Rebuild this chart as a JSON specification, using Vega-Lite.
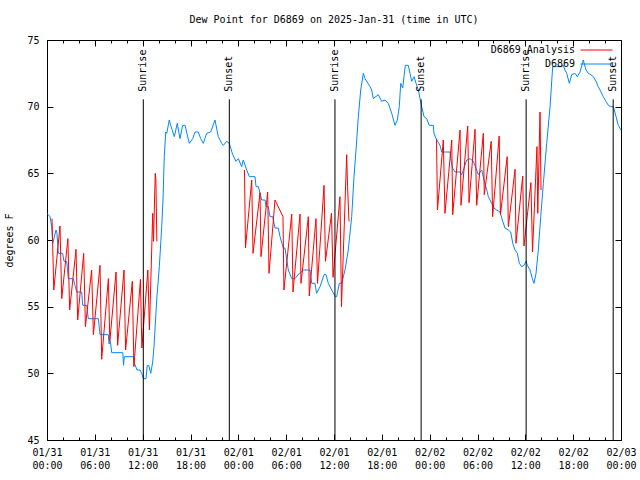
{
  "$schema": "https://vega.github.io/schema/vega-lite/v6.json",
  "width": 574,
  "height": 400,
  "autosize": "none",
  "padding": {"left": 47, "top": 40, "right": 19, "bottom": 40},
  "title": {"text": "Dew Point for D6869 on 2025-Jan-31 (time in UTC)", "font": "DejaVu Sans Mono", "fontSize": 10, "fontWeight": "normal", "color": "#000", "offset": 10, "anchor": "middle"},
  "datasets": {
    "obs": [
      {"h":0.0,"v":62.0},{"h":0.38,"v":61.75},{"h":0.59,"v":61.0},{"h":0.72,"v":59.75},{"h":1.13,"v":60.75},{"h":1.25,"v":60.5},{"h":1.42,"v":59.0},{"h":1.97,"v":59.0},{"h":2.13,"v":58.4},{"h":2.47,"v":58.4},{"h":2.67,"v":57.1},{"h":3.3,"v":57.1},{"h":3.51,"v":56.6},{"h":3.73,"v":56.1},{"h":4.35,"v":56.1},{"h":4.48,"v":55.1},{"h":4.98,"v":55.1},{"h":5.18,"v":54.1},{"h":6.44,"v":54.1},{"h":6.65,"v":52.9},{"h":7.69,"v":52.9},{"h":7.78,"v":52.2},{"h":7.95,"v":52.4},{"h":8.12,"v":51.55},{"h":9.5,"v":51.55},{"h":9.6,"v":50.6},{"h":9.7,"v":51.25},{"h":10.83,"v":51.25},{"h":10.91,"v":50.85},{"h":11.29,"v":50.25},{"h":11.67,"v":50.25},{"h":11.88,"v":50.0},{"h":12.08,"v":49.6},{"h":12.42,"v":49.6},{"h":12.58,"v":50.6},{"h":12.76,"v":50.6},{"h":13.01,"v":50.0},{"h":13.26,"v":50.85},{"h":13.42,"v":52.0},{"h":13.76,"v":55.5},{"h":14.09,"v":58.0},{"h":14.39,"v":61.0},{"h":14.55,"v":63.0},{"h":14.71,"v":66.25},{"h":14.89,"v":68.1},{"h":15.02,"v":68.0},{"h":15.34,"v":69.0},{"h":15.52,"v":68.6},{"h":15.97,"v":67.75},{"h":16.34,"v":68.75},{"h":16.68,"v":67.6},{"h":17.02,"v":68.6},{"h":17.31,"v":68.6},{"h":17.85,"v":67.25},{"h":18.28,"v":67.6},{"h":18.56,"v":68.1},{"h":18.98,"v":68.1},{"h":19.28,"v":67.6},{"h":19.61,"v":67.25},{"h":20.03,"v":68.0},{"h":20.53,"v":68.1},{"h":21.07,"v":69.0},{"h":21.49,"v":67.75},{"h":21.91,"v":67.25},{"h":22.12,"v":67.1},{"h":22.54,"v":67.4},{"h":22.87,"v":67.25},{"h":23.29,"v":66.4},{"h":23.71,"v":65.9},{"h":24.0,"v":66.1},{"h":24.42,"v":65.5},{"h":24.62,"v":66.0},{"h":25.05,"v":65.25},{"h":25.38,"v":64.75},{"h":26.09,"v":64.75},{"h":26.22,"v":64.0},{"h":26.51,"v":64.0},{"h":26.93,"v":63.0},{"h":27.35,"v":63.0},{"h":27.47,"v":62.5},{"h":27.76,"v":62.5},{"h":27.97,"v":61.75},{"h":28.31,"v":61.75},{"h":28.6,"v":60.9},{"h":29.01,"v":60.9},{"h":29.23,"v":60.25},{"h":29.64,"v":59.4},{"h":29.85,"v":59.4},{"h":30.27,"v":57.75},{"h":30.7,"v":57.1},{"h":31.11,"v":57.1},{"h":31.49,"v":57.4},{"h":32.15,"v":57.75},{"h":32.99,"v":57.75},{"h":33.2,"v":56.75},{"h":33.62,"v":56.75},{"h":33.81,"v":56.0},{"h":34.25,"v":56.5},{"h":34.75,"v":57.4},{"h":35.0,"v":57.4},{"h":35.29,"v":56.75},{"h":35.71,"v":56.25},{"h":36.16,"v":55.75},{"h":36.34,"v":55.75},{"h":36.67,"v":56.75},{"h":36.97,"v":56.75},{"h":37.38,"v":57.75},{"h":37.79,"v":59.25},{"h":38.22,"v":61.75},{"h":38.51,"v":64.75},{"h":38.76,"v":66.75},{"h":39.05,"v":69.25},{"h":39.35,"v":71.25},{"h":39.68,"v":72.5},{"h":39.89,"v":72.1},{"h":40.52,"v":71.5},{"h":40.73,"v":71.25},{"h":40.93,"v":70.6},{"h":41.56,"v":70.9},{"h":41.98,"v":70.4},{"h":42.4,"v":70.5},{"h":42.81,"v":70.25},{"h":43.24,"v":69.5},{"h":43.65,"v":68.6},{"h":43.94,"v":69.0},{"h":44.19,"v":70.0},{"h":44.37,"v":71.75},{"h":44.62,"v":71.4},{"h":44.78,"v":72.25},{"h":44.95,"v":73.1},{"h":45.32,"v":73.1},{"h":45.53,"v":72.5},{"h":45.75,"v":71.9},{"h":46.04,"v":72.25},{"h":46.29,"v":71.75},{"h":46.58,"v":71.25},{"h":46.79,"v":70.6},{"h":47.0,"v":70.0},{"h":47.29,"v":69.25},{"h":47.63,"v":69.1},{"h":47.95,"v":68.6},{"h":48.46,"v":68.6},{"h":48.54,"v":68.0},{"h":48.8,"v":67.6},{"h":49.3,"v":67.1},{"h":49.51,"v":66.6},{"h":50.55,"v":66.6},{"h":50.64,"v":66.1},{"h":50.87,"v":65.4},{"h":51.18,"v":65.1},{"h":51.81,"v":65.1},{"h":52.02,"v":64.9},{"h":52.22,"v":65.25},{"h":52.65,"v":66.0},{"h":53.06,"v":66.1},{"h":53.48,"v":65.9},{"h":53.9,"v":65.25},{"h":54.1,"v":64.9},{"h":54.53,"v":65.25},{"h":54.82,"v":64.5},{"h":55.16,"v":63.75},{"h":55.36,"v":63.25},{"h":55.78,"v":62.75},{"h":56.07,"v":62.4},{"h":56.41,"v":62.25},{"h":56.82,"v":62.1},{"h":57.16,"v":61.4},{"h":57.45,"v":60.9},{"h":57.87,"v":60.75},{"h":58.17,"v":60.6},{"h":58.42,"v":59.75},{"h":58.71,"v":59.25},{"h":59.0,"v":59.0},{"h":59.25,"v":58.25},{"h":59.55,"v":58.0},{"h":59.83,"v":58.1},{"h":60.09,"v":58.4},{"h":60.25,"v":58.1},{"h":60.59,"v":57.75},{"h":60.88,"v":57.1},{"h":61.09,"v":56.75},{"h":61.34,"v":57.5},{"h":61.63,"v":59.25},{"h":61.93,"v":61.75},{"h":62.26,"v":64.25},{"h":62.68,"v":67.25},{"h":63.1,"v":70.0},{"h":63.43,"v":73.0},{"h":63.72,"v":73.0},{"h":64.56,"v":73.0},{"h":64.76,"v":73.1},{"h":64.98,"v":72.75},{"h":65.19,"v":72.5},{"h":65.52,"v":71.75},{"h":65.82,"v":72.4},{"h":66.23,"v":72.5},{"h":66.52,"v":72.25},{"h":66.86,"v":72.6},{"h":67.27,"v":73.5},{"h":67.61,"v":72.75},{"h":67.9,"v":72.5},{"h":68.2,"v":72.4},{"h":68.53,"v":72.25},{"h":68.87,"v":71.9},{"h":69.15,"v":71.5},{"h":69.37,"v":71.25},{"h":69.78,"v":70.75},{"h":70.12,"v":70.4},{"h":70.41,"v":70.1},{"h":70.71,"v":70.0},{"h":71.04,"v":70.0},{"h":71.38,"v":69.25},{"h":71.66,"v":68.6},{"h":72.0,"v":68.25}
    ],
    "ana": [
      {"run":1,"h":0.63,"v":61.6},{"run":1,"h":0.85,"v":56.25},{"run":1,"h":1.63,"v":61.05},{"run":1,"h":1.85,"v":55.6},{"run":1,"h":2.62,"v":60.1},{"run":1,"h":2.84,"v":54.75},{"run":1,"h":3.64,"v":59.3},{"run":1,"h":3.85,"v":54.0},{"run":1,"h":4.6,"v":59.0},{"run":1,"h":4.82,"v":53.5},{"run":1,"h":5.6,"v":57.75},{"run":1,"h":5.82,"v":52.9},{"run":1,"h":6.65,"v":58.1},{"run":1,"h":6.86,"v":51.05},{"run":1,"h":7.7,"v":57.1},{"run":1,"h":7.88,"v":52.4},{"run":1,"h":8.66,"v":57.6},{"run":1,"h":8.86,"v":52.1},{"run":1,"h":9.66,"v":57.75},{"run":1,"h":9.86,"v":51.75},{"run":1,"h":10.7,"v":56.9},{"run":1,"h":10.9,"v":50.5},{"run":1,"h":11.72,"v":57.05},{"run":1,"h":11.9,"v":51.9},{"run":1,"h":12.65,"v":57.75},{"run":1,"h":12.85,"v":53.25},{"run":1,"h":13.26,"v":62.0},{"run":1,"h":13.36,"v":59.9},{"run":1,"h":13.58,"v":65.0},{"run":1,"h":13.66,"v":64.5},{"run":1,"h":13.78,"v":59.9},
      {"run":2,"h":24.77,"v":65.25},{"run":2,"h":24.9,"v":59.4},{"run":2,"h":25.68,"v":64.5},{"run":2,"h":25.84,"v":59.0},{"run":2,"h":26.72,"v":63.55},{"run":2,"h":26.84,"v":58.75},{"run":2,"h":27.68,"v":63.6},{"run":2,"h":27.85,"v":57.5},{"run":2,"h":28.6,"v":63.0},{"run":2,"h":29.6,"v":61.75},{"run":2,"h":29.72,"v":56.25},{"run":2,"h":30.7,"v":61.95},{"run":2,"h":30.86,"v":56.1},{"run":2,"h":31.74,"v":61.95},{"run":2,"h":31.86,"v":56.75},{"run":2,"h":32.78,"v":61.75},{"run":2,"h":32.9,"v":55.8},{"run":2,"h":33.74,"v":61.6},{"run":2,"h":33.93,"v":56.75},{"run":2,"h":34.75,"v":64.1},{"run":2,"h":34.93,"v":58.4},{"run":2,"h":35.69,"v":62.0},{"run":2,"h":35.88,"v":57.2},{"run":2,"h":36.75,"v":63.25},{"run":2,"h":36.94,"v":55.0},{"run":2,"h":37.59,"v":66.4},{"run":2,"h":37.7,"v":64.0},{"run":2,"h":37.88,"v":61.4},
      {"run":3,"h":48.86,"v":67.6},{"run":3,"h":48.98,"v":62.25},{"run":3,"h":49.71,"v":67.5},{"run":3,"h":49.92,"v":62.0},{"run":3,"h":50.77,"v":67.5},{"run":3,"h":50.89,"v":61.9},{"run":3,"h":51.81,"v":68.25},{"run":3,"h":51.93,"v":62.6},{"run":3,"h":52.77,"v":68.55},{"run":3,"h":52.94,"v":62.8},{"run":3,"h":53.69,"v":68.3},{"run":3,"h":53.9,"v":62.6},{"run":3,"h":54.73,"v":68.0},{"run":3,"h":54.85,"v":63.4},{"run":3,"h":55.72,"v":67.4},{"run":3,"h":55.9,"v":61.75},{"run":3,"h":56.72,"v":67.8},{"run":3,"h":56.88,"v":61.9},{"run":3,"h":57.72,"v":66.25},{"run":3,"h":57.87,"v":61.0},{"run":3,"h":58.71,"v":65.3},{"run":3,"h":58.83,"v":59.75},{"run":3,"h":59.67,"v":64.8},{"run":3,"h":59.83,"v":59.55},{"run":3,"h":60.7,"v":64.3},{"run":3,"h":60.9,"v":59.1},{"run":3,"h":61.46,"v":67.0},{"run":3,"h":61.56,"v":62.0},{"run":3,"h":61.84,"v":69.6},{"run":3,"h":61.97,"v":63.75}
    ],
    "sun": [
      {"h":12.08,"label":"Sunrise"},{"h":22.87,"label":"Sunset"},{"h":36.12,"label":"Sunrise"},{"h":46.93,"label":"Sunset"},{"h":60.1,"label":"Sunrise"},{"h":71.02,"label":"Sunset"}
    ]
  },
  "layer": [
    {
      "data": {"name": "obs"},
      "mark": {"type": "line", "strokeWidth": 1, "clip": true},
      "encoding": {
        "x": {"field": "h", "type": "quantitative", "scale": {"domain": [0, 72], "nice": false, "zero": false},
          "axis": {"orient": "bottom", "values": [0,6,12,18,24,30,36,42,48,54,60,66,72], "title": null, "tickSize": -6, "labelPadding": 13, "labelFlush": false, "labelOverlap": false, "labelLineHeight": 13, "labelBaseline": "top",
            "labelExpr": "[utcFormat(utc(2025,0,31) + datum.value * 3600000, '%m/%d'), utcFormat(utc(2025,0,31) + datum.value * 3600000, '%H:%M')]"}},
        "y": {"field": "v", "type": "quantitative", "scale": {"domain": [45, 75], "nice": false, "zero": false},
          "axis": {"orient": "left", "values": [45,50,55,60,65,70,75], "title": "degrees F", "tickSize": -6, "labelPadding": 14, "titlePadding": 12}},
        "color": {"datum": "D6869", "type": "nominal", "scale": {"domain": ["D6869 Analysis", "D6869"], "range": ["#ff0000", "#0088ff"]},
          "legend": {"orient": "none", "legendX": 544, "legendY": 4.5, "title": null, "symbolType": "M-3.2,0H3.2", "symbolSize": 100, "symbolStrokeWidth": 1, "symbolFillColor": "transparent", "labelAlign": "right", "labelOffset": -27, "rowPadding": 3, "padding": 0}}
      }
    },
    {
      "data": {"name": "ana"},
      "mark": {"type": "line", "strokeWidth": 1},
      "encoding": {
        "x": {"field": "h", "type": "quantitative",
          "axis": {"orient": "bottom", "values": [0,2,4,6,8,10,12,14,16,18,20,22,24,26,28,30,32,34,36,38,40,42,44,46,48,50,52,54,56,58,60,62,64,66,68,70,72], "title": null, "labels": false, "tickSize": -3}},
        "y": {"field": "v", "type": "quantitative",
          "axis": {"orient": "right", "values": [45,50,55,60,65,70,75], "title": null, "labels": false, "tickSize": -6}},
        "detail": {"field": "run", "type": "nominal"},
        "color": {"datum": "D6869 Analysis", "type": "nominal"}
      }
    },
    {
      "data": {"name": "sun"},
      "mark": {"type": "rule", "color": "#000", "strokeWidth": 1},
      "encoding": {
        "x": {"field": "h", "type": "quantitative",
          "axis": {"orient": "top", "values": [0,6,12,18,24,30,36,42,48,54,60,66,72], "title": null, "labels": false, "tickSize": -6}},
        "y": {"datum": 70.55, "type": "quantitative", "axis": null},
        "y2": {"datum": 45}
      }
    },
    {
      "data": {"name": "sun"},
      "mark": {"type": "text", "angle": 270, "align": "left", "baseline": "middle", "font": "DejaVu Sans Mono", "fontSize": 10, "color": "#000"},
      "encoding": {
        "x": {"field": "h", "type": "quantitative",
          "axis": {"orient": "top", "values": [0,2,4,6,8,10,12,14,16,18,20,22,24,26,28,30,32,34,36,38,40,42,44,46,48,50,52,54,56,58,60,62,64,66,68,70,72], "title": null, "labels": false, "tickSize": -3}},
        "y": {"datum": 71.12, "type": "quantitative", "axis": null},
        "text": {"field": "label"}
      }
    }
  ],
  "resolve": {"axis": {"x": "independent", "y": "independent"}},
  "config": {
    "font": "DejaVu Sans Mono",
    "view": {"stroke": "#000", "strokeWidth": 1},
    "axis": {"grid": false, "domain": false, "labelFont": "DejaVu Sans Mono", "labelFontSize": 10, "labelColor": "#000", "tickColor": "#000", "tickWidth": 1, "titleFont": "DejaVu Sans Mono", "titleFontSize": 10, "titleFontWeight": "normal", "titleColor": "#000"},
    "legend": {"labelFont": "DejaVu Sans Mono", "labelFontSize": 10, "labelColor": "#000"}
  }
}
